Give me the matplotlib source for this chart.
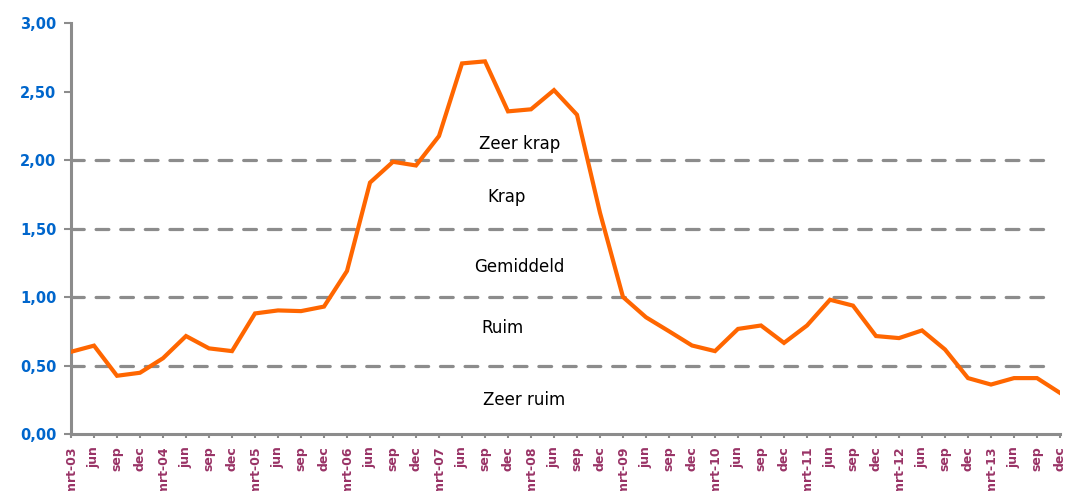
import matplotlib.pyplot as plt

# kwartaal labels (mrt, jun, sep, dec) 2003 t/m 2013
jaren = ['03', '04', '05', '06', '07', '08', '09', '10', '11', '12', '13']
labels = []
for j in jaren:
    labels += ['mrt-' + j, 'jun', 'sep', 'dec']

waarden = [0.60, 0.645, 0.425, 0.447, 0.553, 0.715, 0.625, 0.605,
           0.880, 0.902, 0.897, 0.930, 1.19, 1.835, 1.987, 1.960,
           2.175, 2.705, 2.720, 2.355, 2.370, 2.510, 2.330, 1.615,
           1.000, 0.852, 0.750, 0.646, 0.605, 0.767, 0.792, 0.665,
           0.792, 0.980, 0.937, 0.715, 0.700, 0.756, 0.617, 0.408,
           0.361, 0.408, 0.408, 0.300]

grenzen = [0.5, 1.0, 1.5, 2.0]
zones = ['Zeer ruim', 'Ruim', 'Gemiddeld', 'Krap', 'Zeer krap']
zone_x = [19.7, 18.75, 19.5, 18.95, 19.5]
zone_y = [0.25, 0.775, 1.22, 1.73, 2.115]

grijs = '#8c8c8c'

fig = plt.figure(figsize=(10.69, 4.91), dpi=100)
ax = fig.add_axes([71/1069, 1 - 434/491, (1060 - 71)/1069, (434 - 23)/491])

for g in grenzen:
    ax.plot([0, 42.6], [g, g], color=grijs, lw=2.3, dashes=(4, 3.7),
            dash_capstyle='round', zorder=1)

x = list(range(len(waarden)))
ax.plot(x, waarden, color='#ff6600', lw=3, solid_joinstyle='miter', zorder=3)

for t, zx, zy in zip(zones, zone_x, zone_y):
    ax.text(zx, zy, t, ha='center', va='center', fontsize=12, color='black')

ax.set_xlim(0, 43)
ax.set_ylim(0, 3)
ax.set_xticks(x)
ax.set_xticklabels(labels, rotation=90, fontsize=9, fontweight='bold',
                   color='#993366', va='top', ha='center')
ax.set_yticks([0, 0.5, 1.0, 1.5, 2.0, 2.5, 3.0])
ax.set_yticklabels(['0,00', '0,50', '1,00', '1,50', '2,00', '2,50', '3,00'],
                   fontsize=10.5, fontweight='bold', color='#0066cc')

for s in ['top', 'right']:
    ax.spines[s].set_visible(False)
for s in ['left', 'bottom']:
    ax.spines[s].set_color(grijs)
    ax.spines[s].set_linewidth(2.2)
ax.tick_params(axis='y', length=5, width=1.5, color=grijs, pad=5.5)
ax.tick_params(axis='x', length=3, width=1.5, color=grijs, pad=6)

fig.savefig('out.png', dpi=100)
